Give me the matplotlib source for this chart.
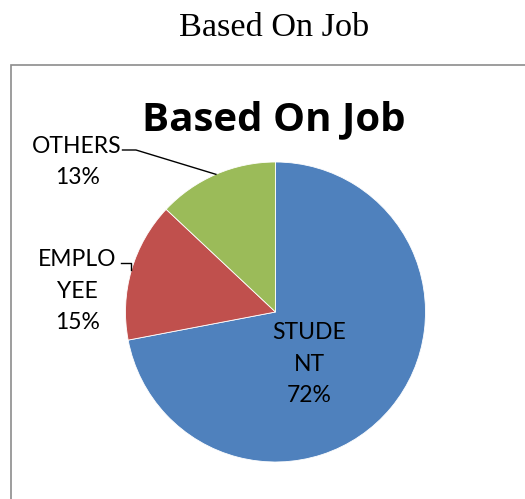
import numpy as np
import matplotlib

matplotlib.use("Agg")
import matplotlib.pyplot as plt
from matplotlib.patches import Rectangle

# job breakdown of respondents
jobs = ["STUDENT", "EMPLOYEE", "OTHERS"]
shares = [72, 15, 13]
label_text = ["STUDE\nNT\n72%", "EMPLO\nYEE\n15%", "OTHERS\n13%"]
colors = ["#4F81BD", "#C0504D", "#9BBB59"]

W, H = 525, 499
fig = plt.figure(figsize=(W / 100, H / 100), dpi=100)
fig.patch.set_facecolor("white")

# caption above the chart frame
fig.text(274 / W, 1 - 36 / H, "Based On Job", ha="center", va="baseline",
         family="Liberation Serif", fontsize=24.7, color="black")

# chart frame (runs off the right and bottom edges)
fig.patches.append(Rectangle((11 / W, -0.05), 1.2, 1 - 65 / H + 0.05,
                             transform=fig.transFigure, fill=False,
                             edgecolor="#8c8c8c", lw=1.2))

fig.text(273.5 / W, 1 - 130 / H, "Based On Job", ha="center", va="baseline",
         family="Open Sans", weight="bold", fontsize=29, color="black")

cx, cy, r = 275.5, 312, 150
ax = fig.add_axes([(cx - r) / W, (H - cy - r) / H, 2 * r / W, 2 * r / H])

wedges, _ = ax.pie(shares, colors=colors, startangle=90, counterclock=False,
                   radius=1, wedgeprops=dict(edgecolor="white", linewidth=0.6))
ax.set_xlim(-1, 1)
ax.set_ylim(-1, 1)
ax.set_aspect("equal")
ax.axis("off")

# mid-angle of each slice, for leader lines
bounds = 90 - np.cumsum([0] + shares) / sum(shares) * 360
mids = np.deg2rad((bounds[:-1] + bounds[1:]) / 2)

lbl = dict(ha="center", va="center", family="Lato", fontsize=16.5,
           linespacing=1.62, color="black")
ax.text(0.223, -0.347, label_text[0], **lbl)
ax.text(-1.323, 0.14, label_text[1], **lbl)
ax.text(-1.323, 1.0, label_text[2], **lbl)

# leader lines: short horizontal tick, then to the slice edge
ex, ey = np.cos(mids[1]), np.sin(mids[1])
ax.plot([-1.03, ex, ex], [0.325, 0.325, ey], color="black", lw=1, clip_on=False)
ex, ey = np.cos(mids[2]), np.sin(mids[2])
ax.plot([-1.02, -0.93, ex], [1.08, 1.08, ey], color="black", lw=1, clip_on=False)

fig.savefig("out.png", dpi=100)
